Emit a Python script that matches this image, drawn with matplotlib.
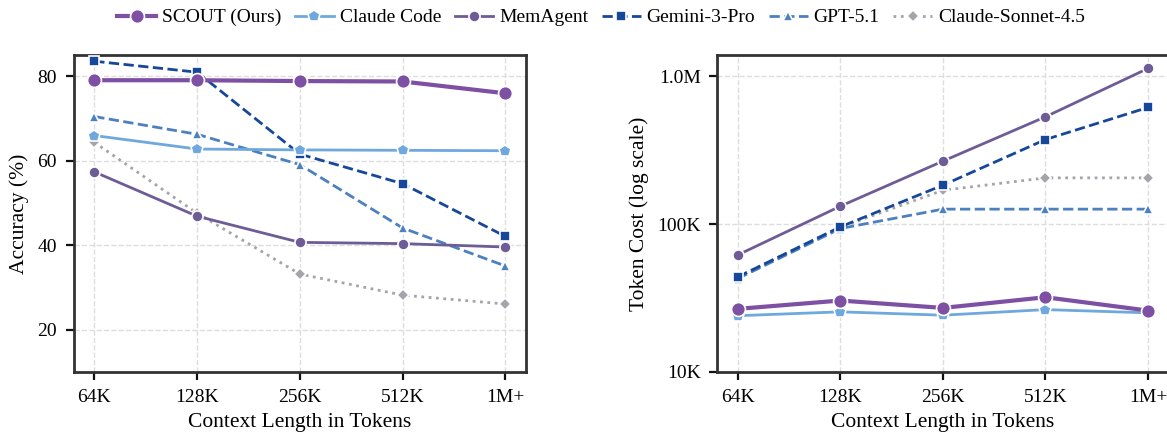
import matplotlib
matplotlib.use("Agg")
import matplotlib.pyplot as plt
from matplotlib.ticker import FixedLocator, FuncFormatter, NullLocator

plt.rcParams["font.family"] = ["Liberation Serif", "DejaVu Serif"]

# ---- data ----
contexts = ["64K", "128K", "256K", "512K", "1M+"]
models = ["SCOUT (Ours)", "Claude Code", "MemAgent", "Gemini-3-Pro", "GPT-5.1", "Claude-Sonnet-4.5"]

acc_scout = [79.1, 79.1, 78.9, 78.8, 76.0]
acc_claude_code = [66.0, 62.8, 62.6, 62.5, 62.4]
acc_memagent = [57.4, 46.9, 40.7, 40.4, 39.6]
acc_gemini = [83.6, 81.0, 61.6, 54.6, 42.1]
acc_gpt = [70.5, 66.3, 59.1, 44.1, 35.1]
acc_sonnet = [64.4, 47.6, 33.2, 28.2, 26.1]

cost_scout = [26700, 30400, 27100, 32000, 26000]
cost_claude_code = [24000, 25500, 24200, 26400, 25100]
cost_memagent = [61800, 131900, 265900, 530000, 1125000]
cost_gemini = [43900, 95600, 182900, 372000, 613000]
cost_gpt = [42800, 93200, 126000, 126000, 126000]
cost_sonnet = [44000, 95000, 169000, 205000, 205000]

accuracy = [acc_scout, acc_claude_code, acc_memagent, acc_gemini, acc_gpt, acc_sonnet]
costs = [cost_scout, cost_claude_code, cost_memagent, cost_gemini, cost_gpt, cost_sonnet]

# ---- styles ----
styles = [
    dict(color="#7E50A4", ls="-", marker="o", lw=3.0, ms=10, zorder=6),
    dict(color="#6FA8DC", ls="-", marker="p", lw=2.0, ms=9, zorder=5),
    dict(color="#6E5C96", ls="-", marker="o", lw=2.0, ms=8, zorder=4),
    dict(color="#16479A", ls="--", marker="s", lw=2.0, ms=7.5, zorder=4),
    dict(color="#4D80C0", ls="--", marker="^", lw=2.0, ms=7, zorder=3),
    dict(color="#A3A5AA", ls=":", marker="D", lw=2.0, ms=6.5, zorder=2),
]

x = list(range(len(contexts)))

fig = plt.figure(figsize=(11.67, 4.38), dpi=100)
ax1 = fig.add_axes([73.7 / 1167, 1 - 372 / 438, (526 - 73.7) / 1167, (372 - 55.3) / 438])
ax2 = fig.add_axes([717.3 / 1167, 1 - 372 / 438, (1168.5 - 717.3) / 1167, (372 - 55.3) / 438])


def style_axes(ax):
    ax.set_xlim(-0.2, 4.2)
    ax.set_xticks(x)
    ax.set_xticklabels(contexts)
    ax.grid(True, color="#DDDDDD", linestyle="--", linewidth=1.0)
    ax.set_axisbelow(True)
    for s in ax.spines.values():
        s.set_color("#333333")
        s.set_linewidth(2.0)
    ax.tick_params(axis="both", which="major", direction="out", length=6, width=1.6,
                   color="#111111", labelsize=14, pad=6)
    ax.set_xlabel("Context Length in Tokens", fontsize=15.5, labelpad=5)


handles = []
for vals, st in zip(accuracy, styles):
    h, = ax1.plot(x, vals, linestyle=st["ls"], color=st["color"], lw=st["lw"],
                  marker=st["marker"], ms=st["ms"], mec="white", mew=1.2, zorder=st["zorder"])
    handles.append(h)
style_axes(ax1)
ax1.set_ylim(10, 85)
ax1.set_yticks([20, 40, 60, 80])
ax1.set_ylabel("Accuracy (%)", fontsize=15.5, labelpad=6)

for vals, st in zip(costs, styles):
    ax2.plot(x, vals, linestyle=st["ls"], color=st["color"], lw=st["lw"],
             marker=st["marker"], ms=st["ms"], mec="white", mew=1.2, zorder=st["zorder"])
ax2.set_yscale("log")
ax2.set_ylim(1e4, 1.38e6)
ax2.yaxis.set_major_locator(FixedLocator([1e4, 1e5, 1e6]))
ax2.yaxis.set_minor_locator(NullLocator())
ax2.yaxis.set_major_formatter(FuncFormatter(
    lambda v, p: "1.0M" if v >= 1e6 else f"{int(round(v / 1000))}K"))
style_axes(ax2)
ax2.set_ylabel("Token Cost (log scale)", fontsize=15.5, labelpad=6)

fig.legend(handles, models, loc="upper center", bbox_to_anchor=(0.515, 1.02), ncol=6,
           frameon=False, fontsize=14, handlelength=2.0, columnspacing=0.7,
           handletextpad=0.3)

fig.savefig("out.png", dpi=100)
